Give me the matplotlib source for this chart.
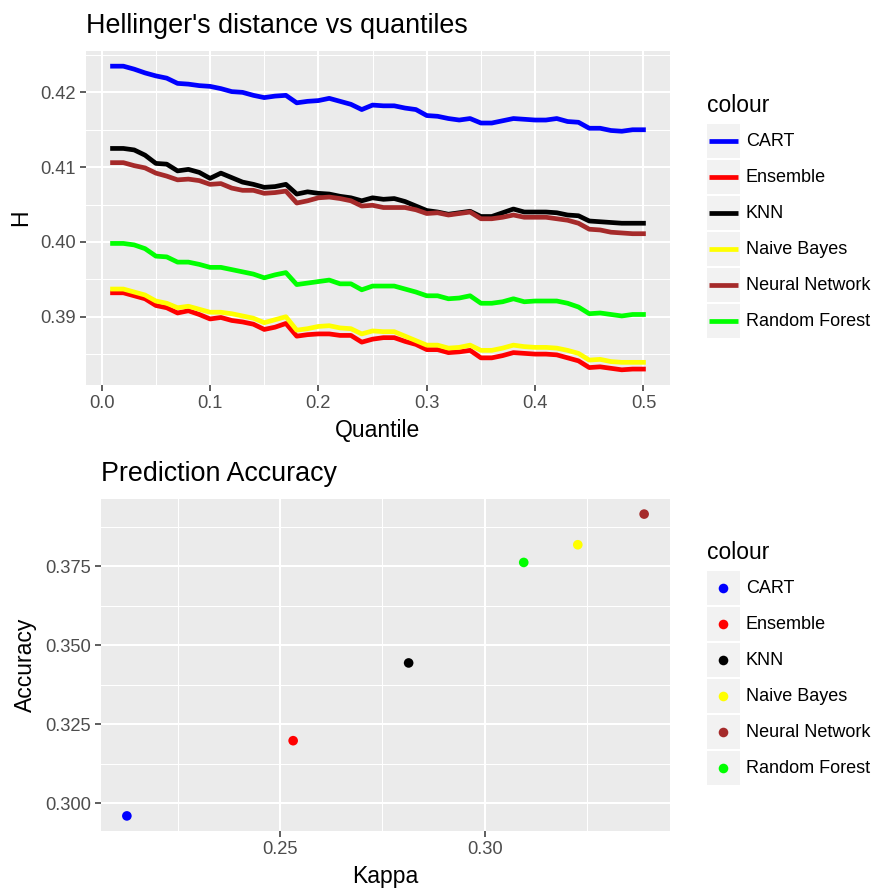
import matplotlib
matplotlib.use("Agg")
import matplotlib.pyplot as plt
from matplotlib.ticker import MultipleLocator, FormatStrFormatter
from matplotlib.patches import Rectangle

plt.rcParams['font.family'] = ['Liberation Sans', 'DejaVu Sans']

# ---------------------------------------------------------------------------
# data
# ---------------------------------------------------------------------------
models = ["CART", "Ensemble", "KNN", "Naive Bayes", "Neural Network", "Random Forest"]
colours = ["#0000FF", "#FF0000", "#000000", "#FFFF00", "#A52A2A", "#00FF00"]

quantile = [0.01, 0.02, 0.03, 0.04, 0.05, 0.06, 0.07, 0.08, 0.09, 0.10,
            0.11, 0.12, 0.13, 0.14, 0.15, 0.16, 0.17, 0.18, 0.19, 0.20,
            0.21, 0.22, 0.23, 0.24, 0.25, 0.26, 0.27, 0.28, 0.29, 0.30,
            0.31, 0.32, 0.33, 0.34, 0.35, 0.36, 0.37, 0.38, 0.39, 0.40,
            0.41, 0.42, 0.43, 0.44, 0.45, 0.46, 0.47, 0.48, 0.49, 0.50]

h_cart = [0.4235, 0.4235, 0.4231, 0.4226, 0.4222, 0.4219, 0.4212, 0.4211, 0.4209, 0.4208,
          0.4205, 0.4201, 0.4200, 0.4196, 0.4193, 0.4195, 0.4196, 0.4186, 0.4188, 0.4189,
          0.4192, 0.4188, 0.4184, 0.4177, 0.4183, 0.4182, 0.4182, 0.4179, 0.4177, 0.4169,
          0.4168, 0.4165, 0.4163, 0.4165, 0.4159, 0.4159, 0.4162, 0.4165, 0.4164, 0.4163,
          0.4163, 0.4165, 0.4161, 0.4160, 0.4152, 0.4152, 0.4149, 0.4148, 0.4150, 0.4150]

h_ensemble = [0.3932, 0.3932, 0.3928, 0.3924, 0.3915, 0.3912, 0.3905, 0.3908, 0.3903, 0.3897,
              0.3899, 0.3895, 0.3893, 0.3890, 0.3883, 0.3886, 0.3891, 0.3874, 0.3876, 0.3877,
              0.3877, 0.3875, 0.3875, 0.3866, 0.3870, 0.3872, 0.3872, 0.3867, 0.3863, 0.3856,
              0.3856, 0.3852, 0.3853, 0.3855, 0.3845, 0.3845, 0.3848, 0.3852, 0.3851, 0.3850,
              0.3850, 0.3849, 0.3845, 0.3841, 0.3832, 0.3833, 0.3831, 0.3829, 0.3830, 0.3830]

h_knn = [0.4125, 0.4125, 0.4123, 0.4116, 0.4105, 0.4104, 0.4095, 0.4097, 0.4093, 0.4085,
         0.4092, 0.4086, 0.4080, 0.4077, 0.4073, 0.4074, 0.4077, 0.4064, 0.4067, 0.4065,
         0.4064, 0.4061, 0.4059, 0.4055, 0.4059, 0.4057, 0.4058, 0.4054, 0.4048, 0.4042,
         0.4040, 0.4037, 0.4039, 0.4041, 0.4034, 0.4034, 0.4039, 0.4044, 0.4040, 0.4040,
         0.4040, 0.4039, 0.4036, 0.4035, 0.4028, 0.4027, 0.4026, 0.4025, 0.4025, 0.4025]

h_nb = [0.3937, 0.3937, 0.3933, 0.3929, 0.3921, 0.3918, 0.3912, 0.3914, 0.3910, 0.3906,
        0.3906, 0.3904, 0.3901, 0.3898, 0.3892, 0.3896, 0.3900, 0.3882, 0.3884, 0.3887,
        0.3888, 0.3885, 0.3884, 0.3877, 0.3881, 0.3880, 0.3880, 0.3874, 0.3868, 0.3862,
        0.3862, 0.3858, 0.3859, 0.3862, 0.3855, 0.3855, 0.3858, 0.3862, 0.3860, 0.3859,
        0.3859, 0.3858, 0.3855, 0.3851, 0.3842, 0.3843, 0.3840, 0.3839, 0.3839, 0.3839]

h_nn = [0.4106, 0.4106, 0.4102, 0.4099, 0.4092, 0.4088, 0.4083, 0.4084, 0.4082, 0.4077,
        0.4078, 0.4072, 0.4069, 0.4069, 0.4065, 0.4066, 0.4068, 0.4052, 0.4055, 0.4059,
        0.4060, 0.4058, 0.4055, 0.4048, 0.4049, 0.4046, 0.4046, 0.4046, 0.4043, 0.4038,
        0.4039, 0.4036, 0.4038, 0.4040, 0.4031, 0.4031, 0.4033, 0.4036, 0.4033, 0.4033,
        0.4033, 0.4031, 0.4029, 0.4025, 0.4017, 0.4016, 0.4013, 0.4012, 0.4011, 0.4011]

h_rf = [0.3998, 0.3998, 0.3996, 0.3991, 0.3981, 0.3980, 0.3973, 0.3973, 0.3970, 0.3966,
        0.3966, 0.3963, 0.3960, 0.3957, 0.3952, 0.3956, 0.3959, 0.3943, 0.3945, 0.3947,
        0.3949, 0.3944, 0.3944, 0.3936, 0.3941, 0.3941, 0.3941, 0.3937, 0.3933, 0.3928,
        0.3928, 0.3924, 0.3925, 0.3928, 0.3918, 0.3918, 0.3920, 0.3924, 0.3920, 0.3921,
        0.3921, 0.3921, 0.3918, 0.3913, 0.3904, 0.3905, 0.3903, 0.3901, 0.3903, 0.3903]

# mismo orden que 'models'
kappa = [0.2126, 0.2532, 0.2814, 0.3227, 0.3389, 0.3095]
accuracy = [0.2960, 0.3198, 0.3444, 0.3818, 0.3915, 0.3762]

# ---------------------------------------------------------------------------
# estilo tipo ggplot
# ---------------------------------------------------------------------------
W, H = 878, 888
PANEL = "#EBEBEB"
TICK_TXT = "#4D4D4D"
TICK_LN = "#333333"


def gg_axes(ax):
    ax.set_facecolor(PANEL)
    for s in ax.spines.values():
        s.set_visible(False)
    ax.grid(True, which='major', color='white', linewidth=1.5)
    ax.grid(True, which='minor', color='white', linewidth=0.75)
    ax.set_axisbelow(True)
    ax.tick_params(which='major', length=4.1, width=1.1, color=TICK_LN,
                   labelcolor=TICK_TXT, labelsize=13.2, pad=3.3)
    ax.tick_params(which='minor', length=0)


def px_axes(left, top, right, bottom):
    return [left / W, 1 - bottom / H, (right - left) / W, (bottom - top) / H]


fig = plt.figure(figsize=(W / 100, H / 100), dpi=100)

# --- panel superior: lineas ---
ax1 = fig.add_axes(px_axes(86, 51, 670, 385))
gg_axes(ax1)
series = [h_cart, h_ensemble, h_knn, h_nb, h_nn, h_rf]
for vals, col in zip(series, colours):
    ax1.plot(quantile, vals, color=col, linewidth=3.4, solid_joinstyle='round')
ax1.margins(0.05)
ax1.xaxis.set_major_locator(MultipleLocator(0.1))
ax1.xaxis.set_minor_locator(MultipleLocator(0.05))
ax1.yaxis.set_major_locator(MultipleLocator(0.01))
ax1.yaxis.set_minor_locator(MultipleLocator(0.005))
ax1.xaxis.set_major_formatter(FormatStrFormatter('%.1f'))
ax1.yaxis.set_major_formatter(FormatStrFormatter('%.2f'))
ax1.set_xlabel("Quantile", fontsize=16.5, labelpad=5)
ax1.set_ylabel("H", fontsize=16.5, labelpad=6)
ax1.set_title("Hellinger's distance vs quantiles", loc='left', fontsize=19.4, pad=13)

# --- panel inferior: puntos ---
ax2 = fig.add_axes(px_axes(101, 499, 670, 831))
gg_axes(ax2)
ax2.scatter(kappa, accuracy, c=colours, s=48, linewidths=0, zorder=3)
ax2.margins(0.05)
ax2.xaxis.set_major_locator(MultipleLocator(0.05))
ax2.xaxis.set_minor_locator(MultipleLocator(0.025))
ax2.yaxis.set_major_locator(MultipleLocator(0.025))
ax2.yaxis.set_minor_locator(MultipleLocator(0.0125))
ax2.xaxis.set_major_formatter(FormatStrFormatter('%.2f'))
ax2.yaxis.set_major_formatter(FormatStrFormatter('%.3f'))
ax2.set_xlabel("Kappa", fontsize=16.5, labelpad=5)
ax2.set_ylabel("Accuracy", fontsize=16.5, labelpad=6)
ax2.set_title("Prediction Accuracy", loc='left', fontsize=19.4, pad=13)

# --- leyendas (dibujadas a mano, en pixeles) ---
leg = fig.add_axes([0, 0, 1, 1])
leg.set_xlim(0, W)
leg.set_ylim(H, 0)
leg.axis('off')


def draw_legend(top_center, kind):
    leg.text(707, top_center, "colour", fontsize=16.5, va='center', ha='left')
    for i, (name, col) in enumerate(zip(models, colours)):
        cy = top_center + 36 + 36 * i
        leg.add_patch(Rectangle((707, cy - 17), 33, 34, facecolor="#F2F2F2",
                                edgecolor='none'))
        if kind == 'line':
            leg.plot([709, 738], [cy, cy], color=col, linewidth=3.4,
                     solid_capstyle='butt')
        else:
            leg.scatter([723.5], [cy], color=col, s=48, linewidths=0)
        leg.text(746, cy, name, fontsize=13.0, va='center', ha='left')


draw_legend(105, 'line')
draw_legend(552, 'point')

fig.savefig("out.png", dpi=100)
